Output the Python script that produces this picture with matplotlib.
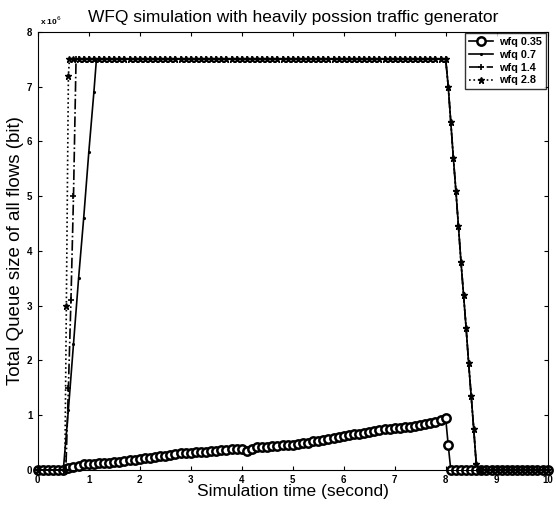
import matplotlib
matplotlib.use("Agg")
import matplotlib.pyplot as plt

# ── Data (queue size in units of 1e6 bit) ──────────────────────────────────────
# wfq 0.35: slow ramp, then drop at t = 8
t_035 = [0.0, 0.1, 0.2, 0.3, 0.4, 0.5, 0.6, 0.7, 0.8, 0.9,
         1.0, 1.1, 1.2, 1.3, 1.4, 1.5, 1.6, 1.7, 1.8, 1.9,
         2.0, 2.1, 2.2, 2.3, 2.4, 2.5, 2.6, 2.7, 2.8, 2.9,
         3.0, 3.1, 3.2, 3.3, 3.4, 3.5, 3.6, 3.7, 3.8, 3.9,
         4.0, 4.1, 4.2, 4.3, 4.4, 4.5, 4.6, 4.7, 4.8, 4.9,
         5.0, 5.1, 5.2, 5.3, 5.4, 5.5, 5.6, 5.7, 5.8, 5.9,
         6.0, 6.1, 6.2, 6.3, 6.4, 6.5, 6.6, 6.7, 6.8, 6.9,
         7.0, 7.1, 7.2, 7.3, 7.4, 7.5, 7.6, 7.7, 7.8, 7.9,
         8.0, 8.05, 8.1, 8.2, 8.3, 8.4, 8.5, 8.6, 8.7, 8.8, 8.9,
         9.0, 9.1, 9.2, 9.3, 9.4, 9.5, 9.6, 9.7, 9.8, 9.9, 10.0]
q_035 = [0.0, 0.0, 0.0, 0.0, 0.0, 0.0, 0.03, 0.06, 0.08, 0.10,
         0.11, 0.11, 0.12, 0.12, 0.13, 0.14, 0.15, 0.16, 0.18, 0.19,
         0.20, 0.21, 0.22, 0.24, 0.25, 0.26, 0.27, 0.29, 0.30, 0.30,
         0.31, 0.32, 0.32, 0.33, 0.35, 0.35, 0.36, 0.37, 0.38, 0.38,
         0.39, 0.34, 0.38, 0.41, 0.42, 0.42, 0.43, 0.44, 0.45, 0.46,
         0.46, 0.47, 0.49, 0.50, 0.52, 0.53, 0.55, 0.57, 0.59, 0.60,
         0.62, 0.63, 0.65, 0.66, 0.68, 0.69, 0.71, 0.73, 0.74, 0.75,
         0.76, 0.77, 0.78, 0.79, 0.80, 0.82, 0.84, 0.86, 0.88, 0.91,
         0.94, 0.45, 0.0, 0.0, 0.0, 0.0, 0.0, 0.0, 0.0, 0.0, 0.0,
         0.0, 0.0, 0.0, 0.0, 0.0, 0.0, 0.0, 0.0, 0.0, 0.0, 0.0]

# shared plateau / fall / tail for the saturated cases
t_plateau = [1.2, 1.3, 1.4, 1.5, 1.6, 1.7, 1.8, 1.9,
             2.0, 2.1, 2.2, 2.3, 2.4, 2.5, 2.6, 2.7, 2.8, 2.9,
             3.0, 3.1, 3.2, 3.3, 3.4, 3.5, 3.6, 3.7, 3.8, 3.9,
             4.0, 4.1, 4.2, 4.3, 4.4, 4.5, 4.6, 4.7, 4.8, 4.9,
             5.0, 5.1, 5.2, 5.3, 5.4, 5.5, 5.6, 5.7, 5.8, 5.9,
             6.0, 6.1, 6.2, 6.3, 6.4, 6.5, 6.6, 6.7, 6.8, 6.9,
             7.0, 7.1, 7.2, 7.3, 7.4, 7.5, 7.6, 7.7, 7.8, 7.9, 8.0]
q_plateau = [7.5] * len(t_plateau)
t_fall = [8.05, 8.1, 8.15, 8.2, 8.25, 8.3, 8.35, 8.4, 8.45, 8.5, 8.55,
          8.6, 8.65, 8.7, 8.8, 8.9, 9.0, 9.1, 9.2, 9.3, 9.4, 9.5, 9.6,
          9.7, 9.8, 9.9, 10.0]
q_fall = [7.0, 6.35, 5.7, 5.1, 4.45, 3.8, 3.2, 2.6, 1.95, 1.35, 0.75,
          0.1, 0.0, 0.0, 0.0, 0.0, 0.0, 0.0, 0.0, 0.0, 0.0, 0.0, 0.0,
          0.0, 0.0, 0.0, 0.0]

t_07 = [0.0, 0.5, 0.6, 0.7, 0.8, 0.9, 1.0, 1.1, 1.15] + t_plateau + t_fall
q_07 = [0.0, 0.0, 1.1, 2.3, 3.5, 4.6, 5.8, 6.9, 7.5] + q_plateau + q_fall

t_14 = [0.0, 0.55, 0.6, 0.65, 0.7, 0.75, 0.8, 0.9, 1.0, 1.1] + t_plateau + t_fall
q_14 = [0.0, 0.0, 1.5, 3.1, 5.0, 7.5, 7.5, 7.5, 7.5, 7.5] + q_plateau + q_fall

t_28 = [0.0, 0.53, 0.56, 0.6, 0.62, 0.7, 0.8, 0.9, 1.0, 1.1] + t_plateau + t_fall
q_28 = [0.0, 0.0, 3.0, 7.2, 7.5, 7.5, 7.5, 7.5, 7.5, 7.5] + q_plateau + q_fall

x_ticks = [0, 1, 2, 3, 4, 5, 6, 7, 8, 9, 10]
y_ticks = [0, 1, 2, 3, 4, 5, 6, 7, 8]

# ── Figure ─────────────────────────────────────────────────────────────────────
plt.rcParams["font.family"] = ["Liberation Sans", "DejaVu Sans"]

fig = plt.figure(figsize=(5.56, 5.13), dpi=100)
ax = fig.add_axes([0.068, 0.084, 0.917, 0.854])

ax.plot(t_035, q_035, color="black", linewidth=1.2, marker="o",
        markersize=6, markerfacecolor="white", markeredgewidth=1.8,
        label="wfq 0.35", clip_on=False)
ax.plot(t_07, q_07, color="black", linewidth=1.2, linestyle="-",
        marker=".", markersize=2.5, label="wfq 0.7", clip_on=False)
ax.plot(t_14, q_14, color="black", linewidth=1.2, linestyle="-.",
        marker="+", markersize=5, markeredgewidth=1.2, label="wfq 1.4",
        clip_on=False)
ax.plot(t_28, q_28, color="black", linewidth=1.2, linestyle=":",
        marker="*", markersize=5, label="wfq 2.8", clip_on=False)

ax.set_xlim(0, 10)
ax.set_ylim(0, 8)
ax.set_xticks(x_ticks)
ax.set_yticks(y_ticks)
ax.tick_params(direction="in", length=3, labelsize=7, top=True, right=True,
               pad=4)
for lbl in ax.get_xticklabels() + ax.get_yticklabels():
    lbl.set_fontweight("bold")

ax.text(0.005, 1.012, r"x 10$^6$", transform=ax.transAxes, fontsize=6,
        fontweight="bold", ha="left", va="bottom")

ax.set_title("WFQ simulation with heavily possion traffic generator",
             fontsize=12.5, pad=7)
ax.set_xlabel("Simulation time (second)", fontsize=12.5, labelpad=-1)
ax.set_ylabel("Total Queue size of all flows (bit)", fontsize=13.5,
              labelpad=2)

leg = ax.legend(loc="upper right", fontsize=7.8, frameon=True, fancybox=False,
                edgecolor="black", handlelength=2.2, borderaxespad=0.15,
                labelspacing=0.25, borderpad=0.35, handletextpad=0.6)
leg.get_frame().set_linewidth(1.0)
leg.set_zorder(5)
for txt in leg.get_texts():
    txt.set_fontweight("bold")

fig.savefig("out.png", dpi=100)
